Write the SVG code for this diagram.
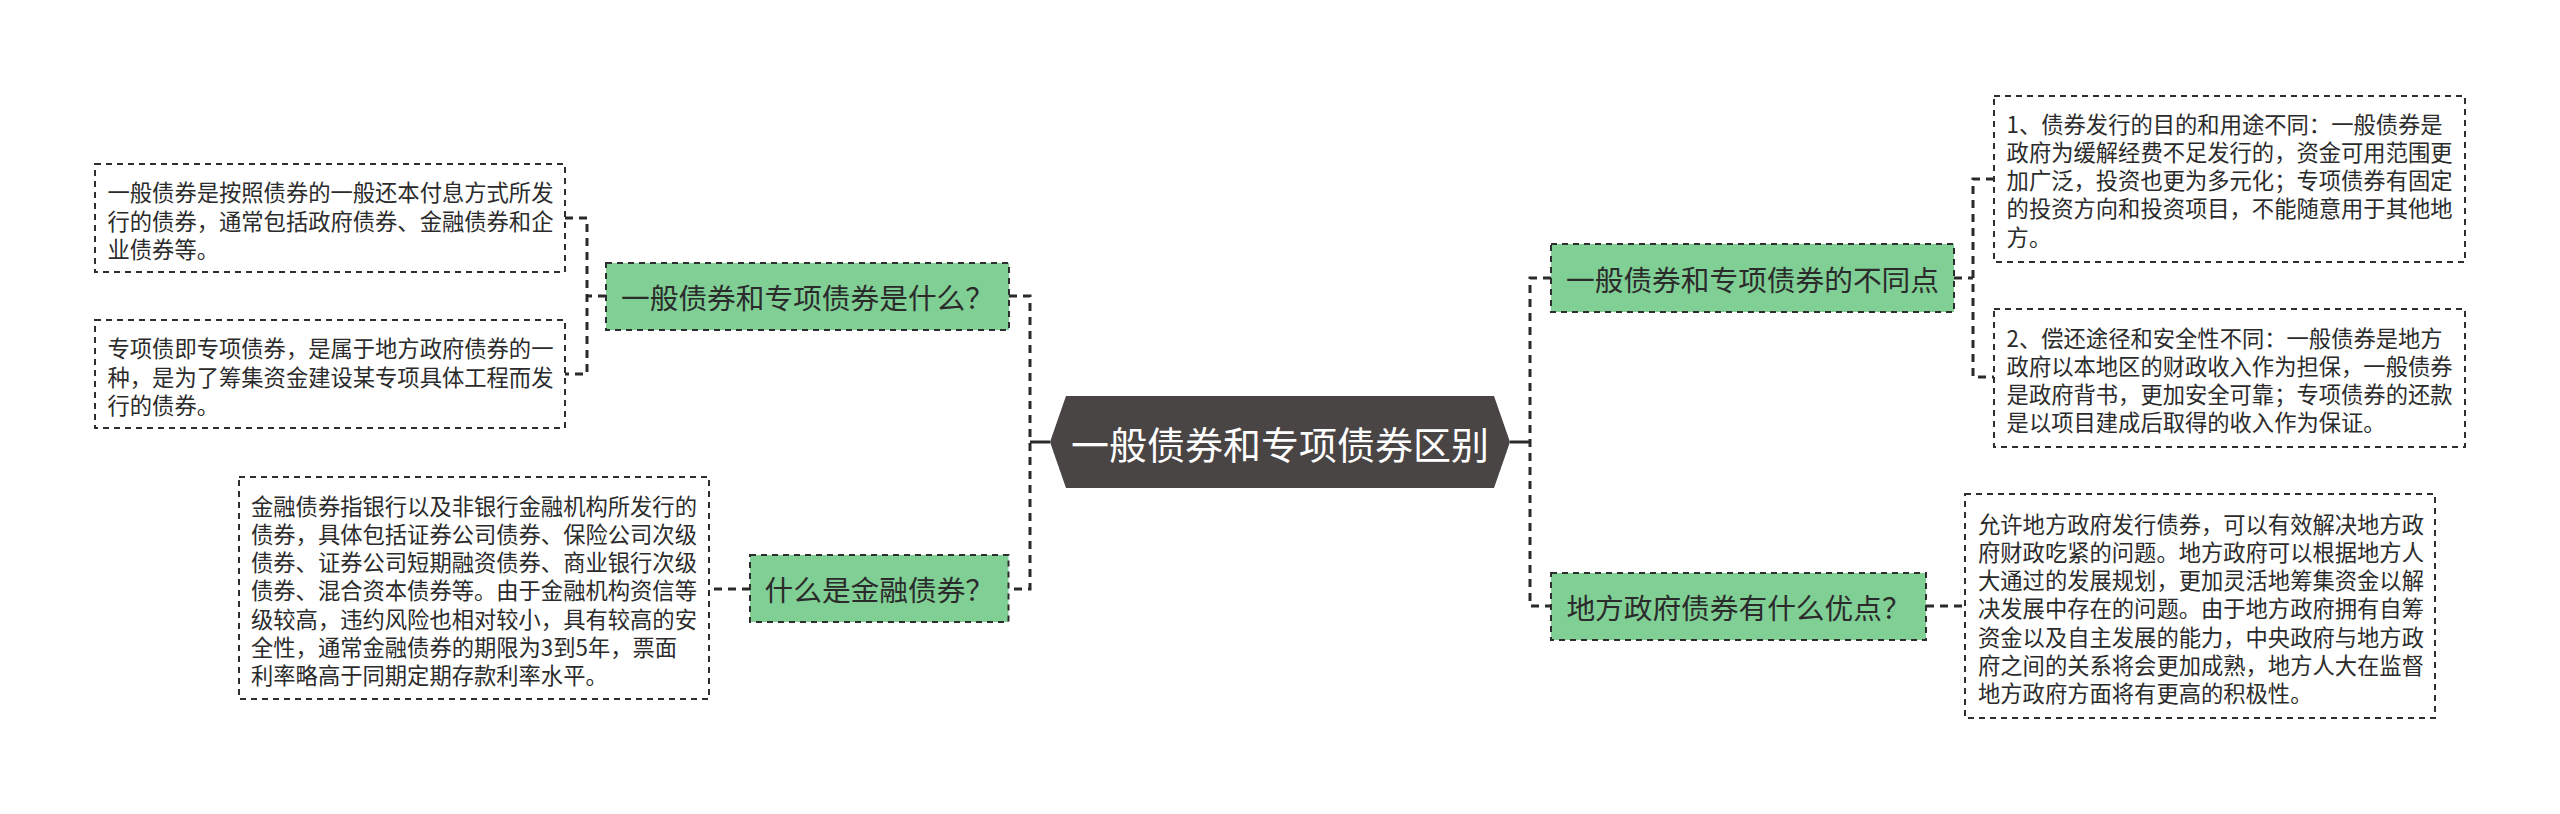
<svg xmlns="http://www.w3.org/2000/svg" width="2560" height="814" viewBox="0 0 2560 814">
<style>
.bg{fill:#ffffff}
.leaf{fill:#ffffff;stroke:#2e2e2e;stroke-width:2;stroke-dasharray:6 5}
.topic{fill:#80cf95;stroke:#2e2e2e;stroke-width:2;stroke-dasharray:6 5}
.root{fill:#4a4545}
.conn{fill:none;stroke:#2a2a2a;stroke-width:3;stroke-dasharray:8 6}
.solid{fill:none;stroke:#2a2a2a;stroke-width:3}
.t{font-family:"Noto Sans CJK SC","Noto Sans",sans-serif;font-size:22.3px;fill:#2b2b2b;dominant-baseline:central}
.tt{font-family:"Noto Sans CJK SC","Noto Sans",sans-serif;font-size:28.7px;fill:#2b2b2b;dominant-baseline:central;text-anchor:middle}
.rt{font-family:"Noto Sans CJK SC","Noto Sans",sans-serif;font-size:38px;fill:#ffffff;dominant-baseline:central;text-anchor:middle}
</style>
<rect class="bg" x="0" y="0" width="2560" height="814"/>
<g id="connectors">
<path class="solid" d="M1050,442 H1030"/>
<path class="conn" d="M1009,296 H1030 V589 H1008.5"/>
<path class="conn" d="M606,296 H587"/>
<path class="conn" d="M565,218 H587 V374 H565"/>
<path class="conn" d="M750,589 H709"/>
<path class="solid" d="M1510,442 H1530"/>
<path class="conn" d="M1551,278 H1530 V606 H1551"/>
<path class="conn" d="M1954,278 H1973"/>
<path class="conn" d="M1994,179 H1973 V377 H1994"/>
<path class="conn" d="M1926,606 H1965"/>
</g>
<g id="root">
<polygon class="root" points="1050,442 1066,396 1494,396 1510,442 1494,488 1066,488"/>
<text class="rt" x="1280" y="442">一般债券和专项债券区别</text>
</g>
<g id="topic-l1">
<rect class="topic" x="606" y="263" width="403" height="67"/>
<text class="tt" x="807.5" y="296.5">一般债券和专项债券是什么？</text>
</g>
<g id="leaf-l1a">
<rect class="leaf" x="95" y="164" width="470" height="108"/>
<text class="t" x="107.5" y="191">一般债券是按照债券的一般还本付息方式所发</text>
<text class="t" x="107.5" y="219.5">行的债券，通常包括政府债券、金融债券和企</text>
<text class="t" x="107.5" y="248">业债券等。</text>
</g>
<g id="leaf-l1b">
<rect class="leaf" x="95" y="320" width="470" height="108"/>
<text class="t" x="107.5" y="347">专项债即专项债券，是属于地方政府债券的一</text>
<text class="t" x="107.5" y="375.5">种，是为了筹集资金建设某专项具体工程而发</text>
<text class="t" x="107.5" y="404">行的债券。</text>
</g>
<g id="topic-l2">
<rect class="topic" x="750" y="555" width="258.5" height="67"/>
<text class="tt" x="879.3" y="588.5">什么是金融债券？</text>
</g>
<g id="leaf-l2a">
<rect class="leaf" x="239" y="477" width="470" height="222"/>
<text class="t" x="251" y="504.5">金融债券指银行以及非银行金融机构所发行的</text>
<text class="t" x="251" y="532.8">债券，具体包括证券公司债券、保险公司次级</text>
<text class="t" x="251" y="561.1">债券、证券公司短期融资债券、商业银行次级</text>
<text class="t" x="251" y="589.4">债券、混合资本债券等。由于金融机构资信等</text>
<text class="t" x="251" y="617.7">级较高，违约风险也相对较小，具有较高的安</text>
<text class="t" x="251" y="646">全性，通常金融债券的期限为3到5年，票面</text>
<text class="t" x="251" y="674.3">利率略高于同期定期存款利率水平。</text>
</g>
<g id="topic-r1">
<rect class="topic" x="1551" y="244" width="403" height="68"/>
<text class="tt" x="1752.5" y="278">一般债券和专项债券的不同点</text>
</g>
<g id="leaf-r1a">
<rect class="leaf" x="1994" y="96" width="471" height="166"/>
<text class="t" x="2006.6" y="122.5">1、债券发行的目的和用途不同：一般债券是</text>
<text class="t" x="2006.6" y="150.8">政府为缓解经费不足发行的，资金可用范围更</text>
<text class="t" x="2006.6" y="179.1">加广泛，投资也更为多元化；专项债券有固定</text>
<text class="t" x="2006.6" y="207.4">的投资方向和投资项目，不能随意用于其他地</text>
<text class="t" x="2006.6" y="235.7">方。</text>
</g>
<g id="leaf-r1b">
<rect class="leaf" x="1994" y="309" width="471" height="138"/>
<text class="t" x="2006.6" y="336.5">2、偿还途径和安全性不同：一般债券是地方</text>
<text class="t" x="2006.6" y="364.8">政府以本地区的财政收入作为担保，一般债券</text>
<text class="t" x="2006.6" y="393.1">是政府背书，更加安全可靠；专项债券的还款</text>
<text class="t" x="2006.6" y="421.4">是以项目建成后取得的收入作为保证。</text>
</g>
<g id="topic-r2">
<rect class="topic" x="1551" y="573" width="375" height="67"/>
<text class="tt" x="1738.5" y="606.5">地方政府债券有什么优点？</text>
</g>
<g id="leaf-r2a">
<rect class="leaf" x="1965" y="494" width="470" height="224"/>
<text class="t" x="1978" y="522.5">允许地方政府发行债券，可以有效解决地方政</text>
<text class="t" x="1978" y="550.8">府财政吃紧的问题。地方政府可以根据地方人</text>
<text class="t" x="1978" y="579.1">大通过的发展规划，更加灵活地筹集资金以解</text>
<text class="t" x="1978" y="607.4">决发展中存在的问题。由于地方政府拥有自筹</text>
<text class="t" x="1978" y="635.7">资金以及自主发展的能力，中央政府与地方政</text>
<text class="t" x="1978" y="664">府之间的关系将会更加成熟，地方人大在监督</text>
<text class="t" x="1978" y="692.3">地方政府方面将有更高的积极性。</text>
</g>
</svg>
